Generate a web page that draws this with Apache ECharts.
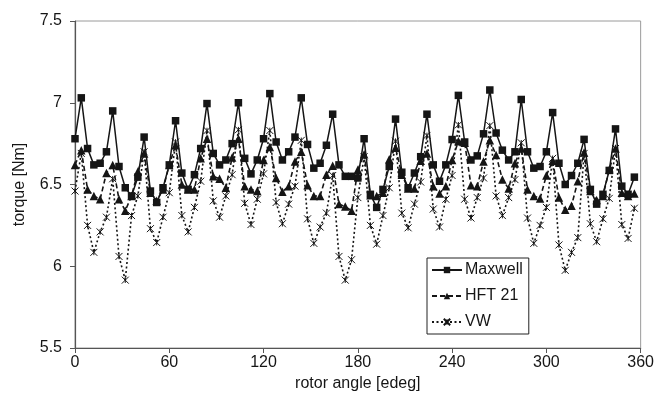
<!DOCTYPE html>
<html>
<head>
<meta charset="utf-8">
<script src="https://cdn.jsdelivr.net/npm/echarts@6/dist/echarts.min.js"></script>
<style>html,body{margin:0;padding:0;background:#fff}#c{width:657px;height:398px}</style>
</head>
<body>
<div id="c"></div>
<script>
const angles = [0,4,8,12,16,20,24,28,32,36,40,44,48,52,56,60,64,68,72,76,80,84,88,92,96,100,104,108,112,116,120,124,128,132,136,140,144,148,152,156,160,164,168,172,176,180,184,188,192,196,200,204,208,212,216,220,224,228,232,236,240,244,248,252,256,260,264,268,272,276,280,284,288,292,296,300,304,308,312,316,320,324,328,332,336,340,344,348,352,356];
const maxwell = [6.78,7.03,6.72,6.62,6.63,6.70,6.95,6.61,6.48,6.43,6.545,6.79,6.46,6.39,6.48,6.62,6.89,6.57,6.47,6.56,6.72,6.995,6.69,6.62,6.65,6.75,7.00,6.66,6.565,6.65,6.78,7.056,6.76,6.65,6.70,6.79,7.03,6.745,6.60,6.63,6.74,6.93,6.62,6.55,6.55,6.54,6.78,6.44,6.36,6.47,6.61,6.90,6.575,6.48,6.57,6.67,6.93,6.62,6.52,6.62,6.775,7.045,6.76,6.65,6.675,6.81,7.078,6.815,6.71,6.65,6.70,7.02,6.70,6.60,6.61,6.70,6.94,6.63,6.50,6.555,6.63,6.776,6.47,6.38,6.44,6.586,6.84,6.49,6.44,6.545];
const hft21 = [6.62,6.71,6.47,6.43,6.41,6.57,6.62,6.41,6.34,6.43,6.58,6.69,6.45,6.40,6.47,6.62,6.74,6.50,6.47,6.47,6.66,6.78,6.55,6.535,6.48,6.665,6.78,6.49,6.47,6.46,6.65,6.73,6.54,6.455,6.49,6.64,6.70,6.495,6.43,6.43,6.56,6.615,6.38,6.365,6.34,6.59,6.685,6.435,6.43,6.45,6.655,6.725,6.56,6.475,6.475,6.645,6.69,6.49,6.445,6.49,6.65,6.765,6.755,6.495,6.49,6.64,6.77,6.68,6.53,6.475,6.63,6.72,6.47,6.43,6.415,6.555,6.645,6.42,6.345,6.37,6.52,6.695,6.46,6.405,6.43,6.59,6.72,6.45,6.43,6.445];
const vw = [6.46,6.69,6.25,6.085,6.21,6.30,6.535,6.06,5.915,6.31,6.43,6.70,6.23,6.145,6.30,6.45,6.76,6.31,6.21,6.36,6.52,6.83,6.40,6.30,6.43,6.56,6.835,6.385,6.255,6.41,6.565,6.83,6.39,6.26,6.38,6.49,6.77,6.29,6.14,6.24,6.325,6.555,6.06,5.915,6.04,6.42,6.67,6.25,6.135,6.31,6.48,6.765,6.325,6.235,6.38,6.515,6.80,6.35,6.24,6.41,6.555,6.865,6.41,6.295,6.42,6.54,6.86,6.43,6.31,6.42,6.53,6.755,6.295,6.14,6.25,6.36,6.66,6.13,5.975,6.085,6.175,6.69,6.26,6.15,6.29,6.415,6.72,6.255,6.17,6.355];
const seriesNames = ['Maxwell', 'HFT 21', 'VW'];
const xTitle = 'rotor angle [edeg]';
const yTitle = 'torque [Nm]';

function pairs(ys) { return angles.map((a, i) => [a, ys[i]]); }

const font = 'Liberation Sans, Arial, sans-serif';
const ink = '#151515';
const chart = echarts.init(document.getElementById('c'), null, {renderer: 'canvas'});
chart.setOption({
  animation: false,
  backgroundColor: '#fff',
  grid: {left: 75, right: 14, top: 21, bottom: 50, show: true, borderColor: '#9a9a9a', borderWidth: 1},
  legend: {
    orient: 'vertical', left: 427, top: 258,
    itemWidth: 30, itemHeight: 8, itemGap: 10,
    padding: [4, 6, 4, 4],
    borderColor: '#222', borderWidth: 1, backgroundColor: '#fff',
    textStyle: {fontFamily: font, fontSize: 16, color: ink, padding: [0, 0, 0, -2]},
    data: seriesNames
  },
  xAxis: {
    type: 'value', min: 0, max: 360, interval: 60,
    name: xTitle, nameLocation: 'middle', nameGap: 26,
    nameTextStyle: {fontFamily: font, fontSize: 16, color: ink},
    axisLine: {show: true, lineStyle: {color: '#555', width: 1.2}},
    axisTick: {show: true, inside: false, length: 5, lineStyle: {color: '#555'}},
    axisLabel: {fontFamily: font, fontSize: 16, color: ink, margin: 7},
    splitLine: {show: false}
  },
  yAxis: {
    type: 'value', min: 5.5, max: 7.5, interval: 0.5,
    name: yTitle, nameLocation: 'middle', nameGap: 47, nameRotate: 90,
    nameTextStyle: {fontFamily: font, fontSize: 16, color: ink},
    axisLine: {show: true, lineStyle: {color: '#555', width: 1.2}},
    axisTick: {show: true, inside: false, length: 5, lineStyle: {color: '#555'}},
    axisLabel: {fontFamily: font, fontSize: 16, color: ink, margin: 13},
    splitLine: {show: false}
  },
  series: [
    {
      name: seriesNames[0], type: 'line', data: pairs(maxwell), z: 4,
      symbol: 'rect', symbolSize: 7.5, showAllSymbol: true,
      lineStyle: {color: ink, width: 1.5, type: 'solid'},
      itemStyle: {color: ink, borderWidth: 0}
    },
    {
      name: seriesNames[1], type: 'line', data: pairs(hft21), z: 3,
      symbol: 'triangle', symbolSize: 8.5, showAllSymbol: true,
      lineStyle: {color: ink, width: 1.6, type: [5, 3]},
      itemStyle: {color: ink, borderWidth: 0}
    },
    {
      name: seriesNames[2], type: 'line', data: pairs(vw), z: 2,
      symbol: 'path://M0,0L10,10M10,0L0,10M5,1L5,9', symbolSize: 7, showAllSymbol: true,
      lineStyle: {color: ink, width: 1.6, type: [2, 2.5]},
      itemStyle: {color: 'rgba(0,0,0,0)', borderColor: ink, borderWidth: 1}
    }
  ]
});
</script>
</body>
</html>
